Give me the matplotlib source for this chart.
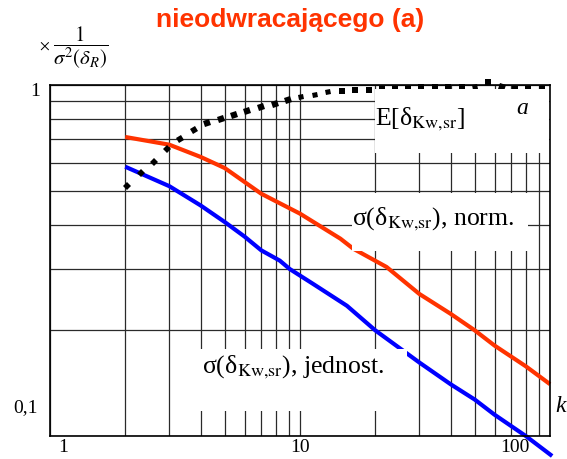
import numpy as np
import matplotlib
matplotlib.use("Agg")
import matplotlib.pyplot as plt
from matplotlib.patches import Rectangle
from matplotlib.markers import MarkerStyle
from matplotlib.transforms import Affine2D

plt.rcParams["mathtext.fontset"] = "stix"

# --- data -------------------------------------------------------------
# sigma(delta_Kw,sr), normalised
k_norm = [2, 3, 4, 5, 7, 10, 14.5, 16.3, 22.2, 30, 40, 50, 60, 80, 100]
s_norm = [0.711, 0.676, 0.624, 0.580, 0.490, 0.430, 0.365, 0.342, 0.303,
          0.254, 0.223, 0.200, 0.181, 0.158, 0.1405]

# sigma(delta_Kw,sr), unit
k_unit = [2, 3, 4, 5, 6, 7, 8.3, 9.1, 11.3, 15.4, 20, 30, 40, 50, 60, 80, 102]
s_unit = [0.585, 0.515, 0.454, 0.407, 0.370, 0.338, 0.316, 0.299, 0.271,
          0.235, 0.200, 0.162, 0.1405, 0.127, 0.115, 0.100, 0.0877]

# E[delta_Kw,sr]
k_mean = [2.03, 2.31, 2.60, 2.95, 3.32, 3.76, 4.26, 4.82, 5.46, 6.16, 6.98,
          7.91, 8.97, 10.1, 11.5, 12.9, 14.7, 16.6, 18.8, 21.2, 24.0, 27.1,
          30.6, 34.6, 39.2, 44.3, 50.1, 56.6, 64.0, 72.4, 81.8, 92.5]
e_mean = [0.515, 0.562, 0.604, 0.659, 0.704, 0.744, 0.780, 0.800, 0.824,
          0.845, 0.867, 0.884, 0.904, 0.924, 0.938, 0.955, 0.963, 0.966,
          0.968, 0.976, 0.976, 0.976, 0.987, 0.987, 0.987, 0.987, 0.987,
          1.02, 0.987, 0.971, 0.971, 0.971]

W, H = 567, 459
RED = "#FF3300"
BLUE = "#0000FF"
SERIF = "Liberation Serif"


def P(px, py):
    """Pixel position -> figure fraction."""
    return px / W, 1 - py / H


fig = plt.figure(figsize=(W / 100, H / 100), dpi=100)
ax = fig.add_axes([50 / W, 1 - 436 / H, 500 / W, 351 / H])
ax.set_xscale("log")
ax.set_yscale("log")
ax.set_xlim(1, 100)
ax.set_ylim(0.1, 1)
ax.grid(True, which="both", color="#2a2a2a", lw=0.9, zorder=0.5)
ax.set_axisbelow(True)
ax.tick_params(which="both", length=0, labelbottom=False, labelleft=False)
for sp in ax.spines.values():
    sp.set_linewidth(1.2)
    sp.set_zorder(6)

ax.plot(k_norm, s_norm, color=RED, lw=3, solid_capstyle="butt", zorder=2,
        clip_on=False)
ax.plot(k_unit, s_unit, color=BLUE, lw=3, solid_capstyle="butt", zorder=2,
        clip_on=False)

# square dots of the mean curve, each turned along the local slope
lx = np.log10(k_mean) * 250
ly = np.log10(e_mean) * 351
ang = np.degrees(np.arctan2(np.gradient(ly), np.gradient(lx)))
for xv, yv, a in zip(k_mean, e_mean, ang):
    m = MarkerStyle("s", transform=Affine2D().rotate_deg(a))
    ax.plot([xv], [yv], marker=m, ms=4.2, color="black", mec="black",
            mew=0, ls="none", zorder=2.5, clip_on=False)

# white label backgrounds
for (x0, y0, x1, y1) in [(375, 89.5, 549, 153), (352, 193, 528, 251),
                         (196, 349, 407, 411)]:
    fx, fy = P(x0, y1)
    ax.add_patch(Rectangle((fx, fy), (x1 - x0) / W, (y1 - y0) / H,
                           transform=fig.transFigure, facecolor="white",
                           edgecolor="none", zorder=3, clip_on=False))

sub = r"$_{\mathrm{Kw{,}sr}}$"
fig.text(*P(375, 125), "E[δ" + sub + "]", family=SERIF, fontsize=18.5,
         ha="left", va="baseline", zorder=7)
fig.text(*P(352, 225), "σ(δ" + sub + "), norm.", family=SERIF,
         fontsize=18.5, ha="left", va="baseline", zorder=7)
fig.text(*P(202, 373), "σ(δ" + sub + "), jednost.", family=SERIF,
         fontsize=18.5, ha="left", va="baseline", zorder=7)
fig.text(*P(522, 108), "a", family=SERIF, style="italic", fontsize=17,
         ha="center", va="center")
fig.text(*P(561, 407), "k", family=SERIF, style="italic", fontsize=17,
         ha="center", va="center")

# axis numbers
for txt, (px, py) in [("1", (35, 92)), ("0,1", (25.5, 408)),
                      ("1", (62.7, 447)), ("10", (300, 447)),
                      ("100", (515, 448))]:
    fig.text(*P(px, py), txt, family=SERIF, fontsize=14, ha="center",
             va="center")

fig.text(*P(45, 45), r"$\times$", fontsize=11, ha="center", va="center")
fig.text(*P(81, 48), r"$\dfrac{1}{\sigma^2(\delta_R)}$", fontsize=15,
         ha="center", va="center")

fig.text(*P(290, 27.5), "nieodwracającego (a)", family="Liberation Sans",
         weight="bold", fontsize=19, color=RED, ha="center",
         va="baseline")

fig.savefig("out.png", dpi=100)
